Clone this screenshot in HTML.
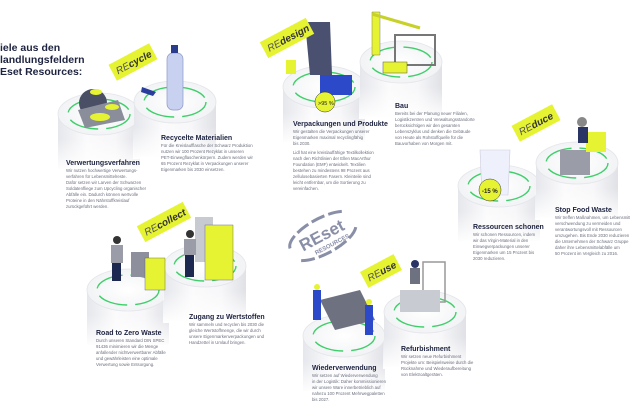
<!DOCTYPE html>
<html><head><meta charset="utf-8"><style>
html,body{margin:0;padding:0;background:#fff;}
svg{display:block;font-family:"Liberation Sans",sans-serif;}
.t{font-weight:bold;fill:#1d2340;font-size:7px;}
.s{fill:#6b6f7e;font-size:4.3px;}
.h{font-weight:bold;fill:#1d2340;font-size:10.5px;}
.g{fill:none;stroke:#3fcf6a;stroke-width:1.4;}
</style></head><body>
<svg width="630" height="412" viewBox="0 0 630 412" xmlns="http://www.w3.org/2000/svg">
<defs>
<linearGradient id="cb" x1="0" x2="1" y1="0" y2="0">
<stop offset="0" stop-color="#e6e7ec"/><stop offset="0.35" stop-color="#fbfbfc"/><stop offset="0.7" stop-color="#f7f7f9"/><stop offset="1" stop-color="#e0e1e6"/></linearGradient>
<linearGradient id="fade" x1="0" x2="0" y1="0" y2="1"><stop offset="0" stop-color="#fff" stop-opacity="0"/><stop offset="1" stop-color="#fff" stop-opacity="1"/></linearGradient>
<radialGradient id="top"><stop offset="0" stop-color="#ffffff"/><stop offset="1" stop-color="#f2f3f5"/></radialGradient>
<g id="cyl">
<rect x="-41" y="0" width="82" height="55" fill="url(#cb)"/>
<rect x="-42" y="25" width="84" height="32" fill="url(#fade)"/>
<ellipse cx="0" cy="0" rx="41" ry="21" fill="url(#top)" stroke="#e4e5ea" stroke-width="0.8"/>
<ellipse class="g" cx="0" cy="0" rx="31" ry="15" stroke-dasharray="30 8"/>
</g>
</defs>

<text class="h" x="0" y="51">iele aus den</text>
<text class="h" x="0" y="63">landlungsfeldern</text>
<text class="h" x="0" y="75">Eset Resources:</text>

<use href="#cyl" x="99" y="114"/>
<use href="#cyl" x="175" y="102"/>
<use href="#cyl" x="324" y="87"/>
<use href="#cyl" x="401" y="62"/>
<use href="#cyl" x="499" y="186"/>
<use href="#cyl" x="577" y="163"/>
<use href="#cyl" x="128" y="290"/>
<use href="#cyl" x="205" y="266"/>
<use href="#cyl" x="344" y="336"/>
<use href="#cyl" x="425" y="312"/>

<!-- illustrations (simplified) -->
<circle cx="93" cy="103" r="14" fill="#4a4f66"/>
<path d="M78 110 L118 100 L125 120 L85 128 Z" fill="#8a8d9a"/>
<ellipse cx="100" cy="117" rx="10" ry="4" fill="#e6f332"/><ellipse cx="112" cy="107" rx="7" ry="3" fill="#e6f332"/><ellipse cx="96" cy="92" rx="6" ry="3" fill="#e6f332"/>
<rect x="167" y="53" width="16" height="57" rx="6" fill="#c8d2f0" stroke="#8b97c8" stroke-width="0.7"/><rect x="171" y="45" width="7" height="8" fill="#2a3c8c"/>
<path d="M142 87 l14 5 l-3 4 l-12-4z" fill="#2a3c9c"/>
<path d="M305 22 L330 22 L332 75 L310 75 Z" fill="#4a5070"/>
<rect x="320" y="75" width="32" height="20" fill="#2b49c8"/>
<circle cx="325" cy="102" r="10" fill="#e6f332" stroke="#333" stroke-width="0.5"/><text x="318" y="105" font-size="5.5" fill="#222">&gt;95 %</text>
<rect x="286" y="60" width="10" height="14" fill="#e6f332"/>
<path d="M372 12 L380 12 L380 55 L372 55 Z" fill="#e6f332" stroke="#666" stroke-width="0.4"/><path d="M372 14 L420 28" stroke="#c7d12a" stroke-width="3"/>
<rect x="395" y="35" width="40" height="30" fill="none" stroke="#777" stroke-width="2"/>
<rect x="383" y="62" width="24" height="11" fill="#e6f332" stroke="#555" stroke-width="0.5"/>
<path d="M480 150 L510 150 L508 195 L482 195 Z" fill="#eef1fb" stroke="#ccd" stroke-width="0.6"/>
<circle cx="490" cy="190" r="11" fill="#e6f332" stroke="#333" stroke-width="0.5"/><text x="482" y="193" font-size="6" font-weight="bold" fill="#222">-15 %</text>
<rect x="560" y="150" width="30" height="25" fill="#9a9da8"/><rect x="586" y="132" width="20" height="20" fill="#e6f332"/><circle cx="582" cy="122" r="5" fill="#888"/><rect x="578" y="127" width="10" height="16" fill="#2a3566"/>
<rect x="131" y="252" width="18" height="25" fill="#8d909c"/><rect x="145" y="258" width="20" height="32" fill="#e6f332" stroke="#555" stroke-width="0.4"/>
<circle cx="117" cy="240" r="4" fill="#333"/><rect x="111" y="245" width="12" height="18" fill="#9a9da8"/><rect x="112" y="263" width="9" height="18" fill="#1d2850"/>
<rect x="195" y="217" width="18" height="45" fill="#c8cad2"/><rect x="205" y="225" width="28" height="55" fill="#e6f332" stroke="#555" stroke-width="0.4"/>
<circle cx="190" cy="234" r="4" fill="#333"/><rect x="184" y="239" width="12" height="16" fill="#9a9da8"/><rect x="185" y="255" width="9" height="22" fill="#1d2850"/>
<path d="M320 300 L360 290 L375 320 L335 330 Z" fill="#6e7180"/>
<rect x="313" y="290" width="8" height="30" fill="#2b49c8"/><rect x="365" y="305" width="8" height="30" fill="#2b49c8"/>
<circle cx="317" cy="287" r="3" fill="#e6f332"/><circle cx="369" cy="302" r="3" fill="#e6f332"/>
<rect x="423" y="262" width="22" height="40" fill="none" stroke="#999" stroke-width="1.5"/>
<rect x="400" y="290" width="40" height="22" fill="#c9cbd3"/><rect x="410" y="268" width="10" height="16" fill="#6e7180"/><circle cx="415" cy="264" r="4" fill="#2a3566"/>

<!-- tags (on top) -->
<g transform="translate(133,62) rotate(-28)"><rect x="-23" y="-9" width="46" height="18" fill="#e6f332"/><text x="-19" y="4" font-size="10" fill="#333"><tspan font-style="italic" fill="#555">RE</tspan><tspan font-weight="bold" font-style="italic">cycle</tspan></text></g>
<g transform="translate(287,38) rotate(-28)"><rect x="-26" y="-9" width="52" height="18" fill="#e6f332"/><text x="-22" y="4" font-size="10" fill="#333"><tspan font-style="italic" fill="#555">RE</tspan><tspan font-weight="bold" font-style="italic">design</tspan></text></g>
<g transform="translate(536,123) rotate(-28)"><rect x="-23" y="-9" width="46" height="18" fill="#e6f332"/><text x="-19" y="4" font-size="10" fill="#333"><tspan font-style="italic" fill="#555">RE</tspan><tspan font-weight="bold" font-style="italic">duce</tspan></text></g>
<g transform="translate(164,222) rotate(-28)"><rect x="-26" y="-9" width="52" height="18" fill="#e6f332"/><text x="-22" y="4" font-size="10" fill="#333"><tspan font-style="italic" fill="#555">RE</tspan><tspan font-weight="bold" font-style="italic">collect</tspan></text></g>
<g transform="translate(381,271) rotate(-28)"><rect x="-19" y="-9" width="38" height="18" fill="#e6f332"/><text x="-15" y="4" font-size="10" fill="#333"><tspan font-style="italic" fill="#555">RE</tspan><tspan font-weight="bold" font-style="italic">use</tspan></text></g>

<!-- REset logo -->
<g transform="translate(322,236) rotate(-28)" fill="#8a8fa8">
<path d="M-34 -4 A36 14 0 0 1 30 -12" fill="none" stroke="#8a8fa8" stroke-width="3" stroke-dasharray="14 4"/>
<path d="M-30 12 A36 14 0 0 0 34 8" fill="none" stroke="#8a8fa8" stroke-width="3" stroke-dasharray="14 4"/>
<text x="-24" y="5" font-size="17" font-weight="bold">REset</text>
<text x="-14" y="14" font-size="6" font-weight="bold">RESOURCES</text>
</g>

<text class="t" x="66" y="165">Verwertungsverfahren</text>
<text class="s"><tspan x="66" y="172">Wir nutzen hochwertige Verwertungs-</tspan><tspan x="66" y="178">verfahren für Lebensmittelreste.</tspan><tspan x="66" y="184">Dafür setzen wir Larven der Schwarzen</tspan><tspan x="66" y="190">Soldatenfliege zum Upcycling organischer</tspan><tspan x="66" y="196">Abfälle ein. Dadurch können wertvolle</tspan><tspan x="66" y="202">Proteine in den Nährstoffkreislauf</tspan><tspan x="66" y="208">zurückgeführt werden.</tspan></text>

<text class="t" x="161" y="140">Recycelte Materialien</text>
<text class="s"><tspan x="161" y="147">Für die Kreislaufflasche der Schwarz Produktion</tspan><tspan x="161" y="153">nutzen wir 100 Prozent Rezyklat in unseren</tspan><tspan x="161" y="159">PET-Einwegflaschenkörpern. Zudem werden wir</tspan><tspan x="161" y="165">65 Prozent Rezyklat in Verpackungen unserer</tspan><tspan x="161" y="171">Eigenmarken bis 2030 einsetzen.</tspan></text>

<text class="t" x="293" y="126">Verpackungen und Produkte</text>
<text class="s"><tspan x="293" y="133">Wir gestalten die Verpackungen unserer</tspan><tspan x="293" y="139">Eigenmarken maximal recyclingfähig</tspan><tspan x="293" y="145">bis 2030.</tspan><tspan x="293" y="154">Lidl hat eine kreislauffähige Textilkollektion</tspan><tspan x="293" y="160">nach den Richtlinien der Ellen MacArthur</tspan><tspan x="293" y="166">Foundation (EMF) entwickelt. Textilien</tspan><tspan x="293" y="172">bestehen zu mindestens 98 Prozent aus</tspan><tspan x="293" y="178">zellulosebasierten Fasern. Kleinteile sind</tspan><tspan x="293" y="184">leicht entfernbar, um die Sortierung zu</tspan><tspan x="293" y="190">vereinfachen.</tspan></text>

<text class="t" x="395" y="108">Bau</text>
<text class="s"><tspan x="395" y="115">Bereits bei der Planung neuer Filialen,</tspan><tspan x="395" y="121">Logistikzentren und Verwaltungsstandorte</tspan><tspan x="395" y="127">berücksichtigen wir den gesamten</tspan><tspan x="395" y="133">Lebenszyklus und denken die Gebäude</tspan><tspan x="395" y="139">von Heute als Rohstoffquelle für die</tspan><tspan x="395" y="145">Bauvorhaben von Morgen mit.</tspan></text>

<text class="t" x="473" y="229">Ressourcen schonen</text>
<text class="s"><tspan x="473" y="236">Wir schonen Ressourcen, indem</tspan><tspan x="473" y="242">wir das Virgin-Material in den</tspan><tspan x="473" y="248">Einwegverpackungen unserer</tspan><tspan x="473" y="254">Eigenmarken um 15 Prozent bis</tspan><tspan x="473" y="260">2030 reduzieren.</tspan></text>

<text class="t" x="555" y="212">Stop Food Waste</text>
<text class="s"><tspan x="555" y="219">Wir treffen Maßnahmen, um Lebensmittel-</tspan><tspan x="555" y="225">verschwendung zu vermeiden und</tspan><tspan x="555" y="231">verantwortungsvoll mit Ressourcen</tspan><tspan x="555" y="237">umzugehen. Bis Ende 2030 reduzieren</tspan><tspan x="555" y="243">die Unternehmen der Schwarz Gruppe</tspan><tspan x="555" y="249">daher ihre Lebensmittelabfälle um</tspan><tspan x="555" y="255">50 Prozent im Vergleich zu 2016.</tspan></text>

<text class="t" x="96" y="335">Road to Zero Waste</text>
<text class="s"><tspan x="96" y="342">Durch unseren Standard DIN SPEC</tspan><tspan x="96" y="348">91436 minimieren wir die Menge</tspan><tspan x="96" y="354">anfallender nichtverwertbarer Abfälle</tspan><tspan x="96" y="360">und gewährleisten eine optimale</tspan><tspan x="96" y="366">Verwertung sowie Entsorgung.</tspan></text>

<text class="t" x="189" y="319">Zugang zu Wertstoffen</text>
<text class="s"><tspan x="189" y="326">Wir sammeln und recyclen bis 2030 die</tspan><tspan x="189" y="332">gleiche Wertstoffmenge, die wir durch</tspan><tspan x="189" y="338">unsere Eigenmarkenverpackungen und</tspan><tspan x="189" y="344">Handzettel in Umlauf bringen.</tspan></text>

<text class="t" x="312" y="370">Wiederverwendung</text>
<text class="s"><tspan x="312" y="377">Wir setzen auf Wiederverwendung</tspan><tspan x="312" y="383">in der Logistik: Daher kommissionieren</tspan><tspan x="312" y="389">wir unsere Ware innerbetrieblich auf</tspan><tspan x="312" y="395">nahezu 100 Prozent Mehrwegpaletten</tspan><tspan x="312" y="401">bis 2027.</tspan></text>

<text class="t" x="401" y="351">Refurbishment</text>
<text class="s"><tspan x="401" y="358">Wir setzen neue Refurbishment</tspan><tspan x="401" y="364">Projekte um: Beispielsweise durch die</tspan><tspan x="401" y="370">Rücknahme und Wiederaufbereitung</tspan><tspan x="401" y="376">von Elektroaltgeräten.</tspan></text>
</svg>
</body></html>
